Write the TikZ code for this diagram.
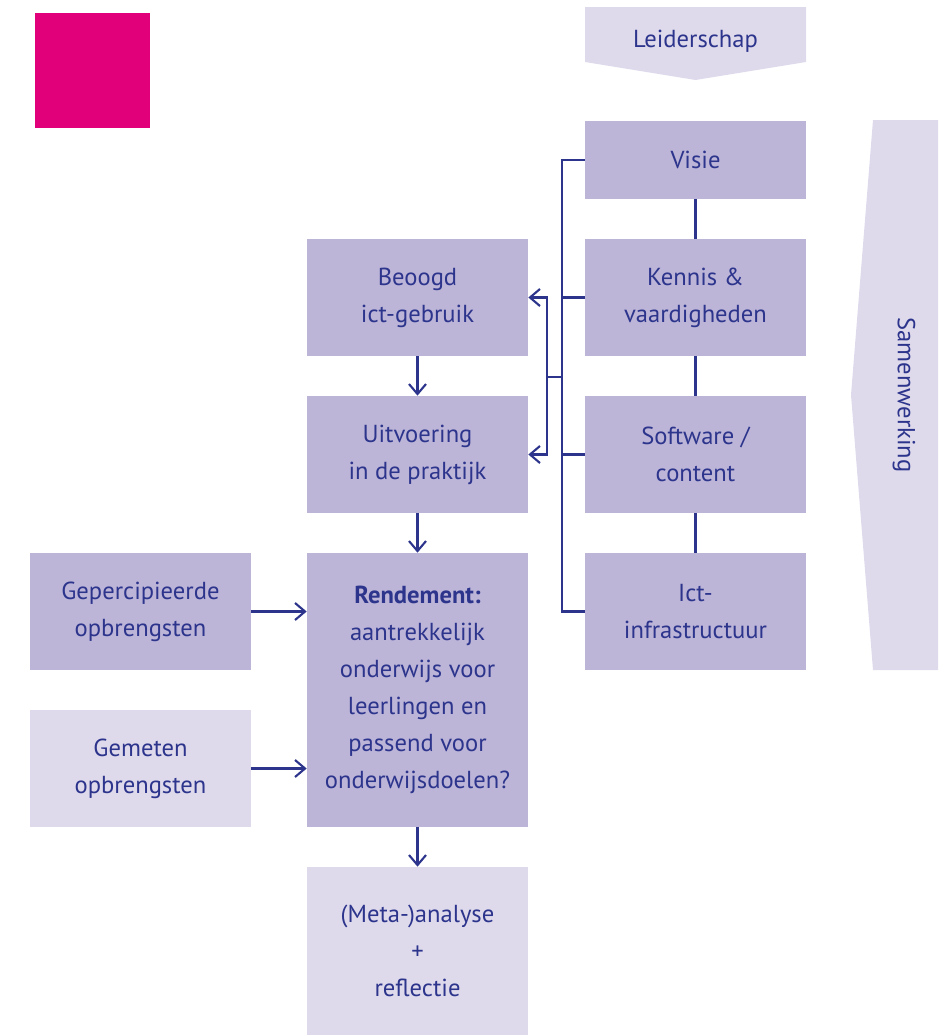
\documentclass[tikz,border=0pt]{standalone}
\usepackage{fontspec}
\setmainfont{PT Sans}
\usetikzlibrary{positioning, calc, arrows.meta}
\definecolor{ink}{RGB}{44,52,140}
\definecolor{lilac}{RGB}{188,181,216}
\definecolor{pale}{RGB}{222,218,236}
\definecolor{magenta}{RGB}{226,0,122}
\tikzset{box/.style={fill=lilac, text=ink, align=center, inner sep=0pt,
    minimum width=4.42cm, minimum height=2.34cm,
    font=\fontsize{14}{21}\selectfont}}
\tikzset{palebox/.style={box, fill=pale}}
\tikzset{link/.style={draw=ink, line width=1.2pt}}

\begin{document}
\begin{tikzpicture}[x=0.02cm, y=-0.02cm, >={Straight Barb[length=0.2cm, width=0.34cm]}]
      \useasboundingbox (0,0) rectangle (938,1035);
      \fill[magenta] (35,13) rectangle (150,128);

      % leiderschap and samenwerking
      \fill[pale] (585,7) -- (806,7) -- (806,62) -- (695.5,80) -- (585,62) -- cycle;
      \node[text=ink, font=\fontsize{14}{21}\selectfont] (lead) at (695.5,41) {Leiderschap};
      \fill[pale] (873,120) -- (938,120) -- (938,670) -- (873,670) -- (851,395) -- cycle;
      \node[text=ink, font=\fontsize{14}{21}\selectfont, rotate=-90] (team) at (904,395) {Samenwerking};

      % right column
      \node[box, minimum height=1.56cm] (visie) at (695.5,160) {Visie};
      \node[box] (kennis) at (695.5,297.5) {Kennis \&\\vaardigheden};
      \node[box] (soft) at (695.5,454.5) {Software /\\content};
      \node[box] (infra) at (695.5,611.5) {Ict-\\infrastructuur};

      % middle column
      \node[box] (beoogd) at (417.5,297.5) {Beoogd\\ict-gebruik};
      \node[box] (uitv) at (417.5,454.5) {Uitvoering\\in de praktijk};
      \node[box, minimum height=5.48cm] (rend) at (417.5,690) {\textbf{Rendement:}\\aantrekkelijk\\onderwijs voor\\leerlingen en\\passend voor\\onderwijsdoelen?};
      \node[palebox, minimum height=3.36cm] (meta) at (417.5,951) {(Meta-)analyse\\+\\reflectie};

      % left column
      \node[box] (gep) at (140.5,611.5) {Gepercipieerde\\opbrengsten};
      \node[palebox] (gem) at (140.5,768.5) {Gemeten\\opbrengsten};

      \draw[link] (visie) -- (kennis);
      \draw[link] (kennis) -- (soft);
      \draw[link] (soft) -- (infra);
      \draw[link] (visie.west) -- ++(-23,0) |- (infra.west);
      \draw[link] (kennis.west) -- ++(-23,0);
      \draw[link] (soft.west) -- ++(-23,0);
      \coordinate (j) at ($(visie.west)+(-23,217)$);
      \draw[link] (j) -- ++(-15,0) coordinate (k);
      \draw[link, ->] (k) |- (beoogd.east);
      \draw[link, ->] (k) |- (uitv.east);

      \draw[link, ->] (beoogd) -- (uitv);
      \draw[link, ->] (uitv) -- (rend);
      \draw[link, ->] (rend) -- (meta);
      \draw[link, ->] (gep.east) -- (gep.east -| rend.west);
      \draw[link, ->] (gem.east) -- (gem.east -| rend.west);
    \end{tikzpicture}
\end{document}
